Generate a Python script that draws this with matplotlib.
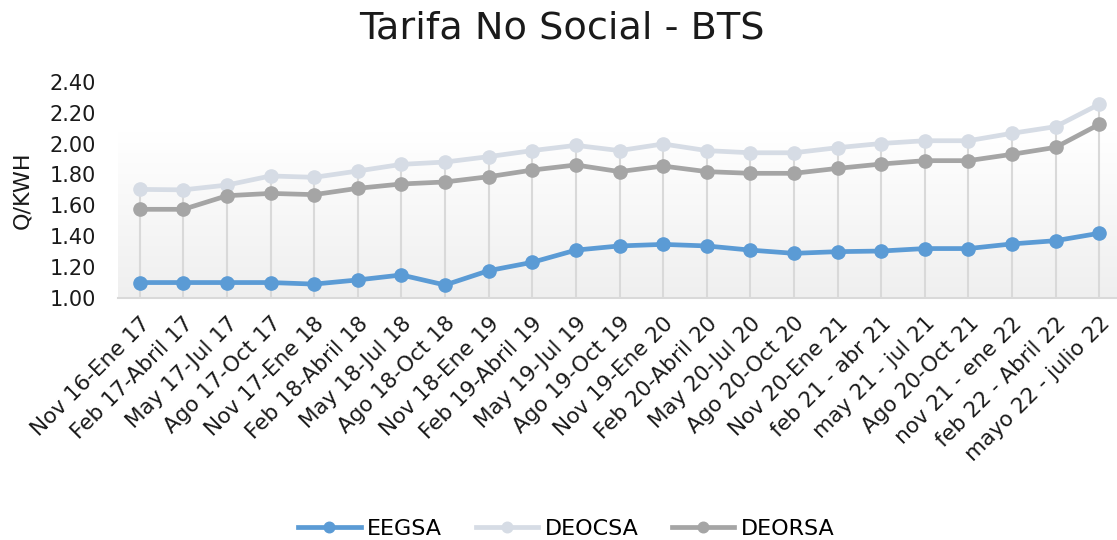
import numpy as np
import matplotlib
matplotlib.use('Agg')
import matplotlib.pyplot as plt
from matplotlib.colors import LinearSegmentedColormap

plt.rcParams['font.family'] = ['DejaVu Sans']

periodos = ['Nov 16-Ene 17', 'Feb 17-Abril 17', 'May 17-Jul 17', 'Ago 17-Oct 17',
            'Nov 17-Ene 18', 'Feb 18-Abril 18', 'May 18-Jul 18', 'Ago 18-Oct 18',
            'Nov 18-Ene 19', 'Feb 19-Abril 19', 'May 19-Jul 19', 'Ago 19-Oct 19',
            'Nov 19-Ene 20', 'Feb 20-Abril 20', 'May 20-Jul 20', 'Ago 20-Oct 20',
            'Nov 20-Ene 21', 'feb 21 - abr 21', 'may 21 - jul 21', 'Ago 20-Oct 21',
            'nov 21 - ene 22', 'feb 22 - Abril 22', 'mayo 22 - julio 22']

eegsa = [1.10, 1.10, 1.10, 1.10, 1.09, 1.117, 1.149, 1.084, 1.177, 1.231, 1.31, 1.337,
         1.347, 1.337, 1.31, 1.289, 1.30, 1.304, 1.32, 1.32, 1.35, 1.371, 1.419]
deocsa = [1.703, 1.70, 1.731, 1.79, 1.781, 1.822, 1.865, 1.88, 1.915, 1.954, 1.988, 1.954,
          1.997, 1.954, 1.94, 1.94, 1.973, 2.00, 2.018, 2.018, 2.066, 2.109, 2.254]
deorsa = [1.574, 1.574, 1.662, 1.677, 1.669, 1.71, 1.738, 1.751, 1.785, 1.828, 1.861, 1.818,
          1.854, 1.818, 1.807, 1.807, 1.839, 1.867, 1.889, 1.889, 1.93, 1.975, 2.124]

x = np.arange(len(periodos))

fig = plt.figure(figsize=(11.17, 5.40), dpi=100)
ax = fig.add_axes([118/1117, 1 - 298/540, 1003/1117, (298 - 81.7)/540])

# fondo degradado del area de trazado
cmap = LinearSegmentedColormap.from_list('fondo', ['#ffffff', '#efefef'])
grad = np.linspace(0, 1, 256).reshape(-1, 1)
ax.imshow(grad, extent=(-0.5, len(x) - 0.5, 1.0, 2.07), origin='upper', cmap=cmap,
          aspect='auto', zorder=0)

# lineas de caida hasta la serie mas alta
tope = np.maximum.reduce([eegsa, deocsa, deorsa])
ax.vlines(x, 1.0, tope, color='#d9d9d9', lw=1.5, zorder=1)

ax.plot(x, eegsa, color='#5b9bd5', lw=3.4, marker='o', ms=9.5, label='EEGSA', zorder=3)
ax.plot(x, deocsa, color='#d6dce5', lw=3.4, marker='o', ms=9.5, label='DEOCSA', zorder=3)
ax.plot(x, deorsa, color='#a5a5a5', lw=3.4, marker='o', ms=9.5, label='DEORSA', zorder=3)

ax.set_xlim(-0.5, len(x) - 0.5)
ax.set_ylim(1.0, 2.4)
ax.set_yticks(np.arange(1.0, 2.41, 0.2))
ax.set_yticklabels(['%.2f' % v for v in np.arange(1.0, 2.41, 0.2)], fontsize=15, color='#1a1a1a')
ax.set_xticks(x)
ax.set_xticklabels(periodos, rotation=45, ha='right', rotation_mode='anchor',
                   fontsize=15.5, color='#1a1a1a')
ax.tick_params(axis='both', length=0)
ax.tick_params(axis='y', pad=16)
ax.tick_params(axis='x', pad=11)

for s in ['top', 'right', 'left']:
    ax.spines[s].set_visible(False)
ax.spines['bottom'].set_color('#d9d9d9')
ax.spines['bottom'].set_linewidth(1.5)

ax.set_ylabel('Q/KWH', fontsize=16, color='#1a1a1a')
ax.yaxis.set_label_coords(-0.085, 0.5)

fig.suptitle('Tarifa No Social - BTS', fontsize=27.5, color='#1a1a1a', y=0.98, x=0.503)

fig.legend(loc='lower center', bbox_to_anchor=(0.507, -0.035), ncol=3, frameon=False,
           fontsize=16, handlelength=2.8, columnspacing=1.5, handletextpad=0.3,
           markerscale=0.8)

fig.savefig('out.png', dpi=100)
